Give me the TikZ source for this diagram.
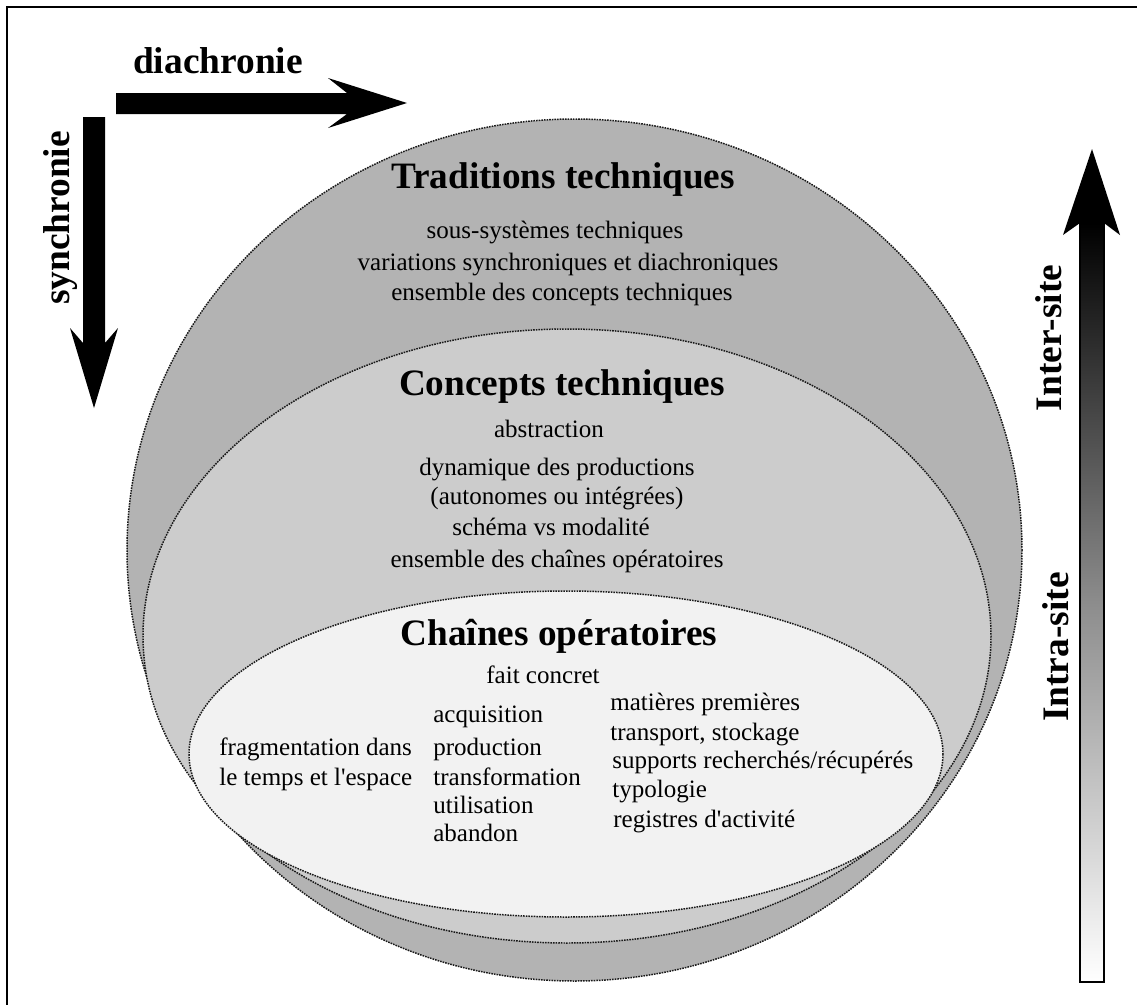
\documentclass[tikz,border=0pt]{standalone}
\usepackage{fontspec}
\setmainfont{Liberation Serif}
\usepackage{xcolor}
\usepackage{tikz}

\definecolor{tradgray}{HTML}{B3B3B3}
\definecolor{concgray}{HTML}{CCCCCC}
\definecolor{chaingray}{HTML}{F2F2F2}

\begin{document}
\begin{tikzpicture}[x=0.02cm,y=-0.02cm,
   bord/.style={draw=black!90,line width=0.85pt,dash pattern=on 0.9pt off 0.6pt},
   ttl/.style={font=\fontsize{21.2}{24}\selectfont\bfseries,inner sep=0pt,anchor=base},
   txt/.style={font=\fontsize{14.25}{17}\selectfont,inner sep=0pt,anchor=base},
   col/.style={txt,anchor=base west},
   axlab/.style={font=\fontsize{21.3}{24}\selectfont\bfseries,inner sep=0pt,anchor=base}]
  \useasboundingbox (0,0) rectangle (1137,1005);
  \draw[line width=1.2pt] (7,1005) -- (7,7) -- (1137,7);

  % nested levels
  \path[bord,fill=tradgray] (574.5,550) ellipse [x radius=447.5, y radius=431];
  \path[bord,fill=concgray] (567,636) ellipse [x radius=424, y radius=307];
  \path[bord,fill=chaingray] (566,754) ellipse [x radius=377, y radius=163];

  % axes
  \fill (116,93) -- (347,93) -- (328,78) -- (407,103) -- (328,128) -- (347,114) -- (116,114) -- cycle;
  \fill (83,117) -- (105,117) -- (105,343) -- (118,328) -- (94,408) -- (70,328) -- (83,343) -- cycle;
  \node[axlab] (dia) at (218,73) {diachronie};
  \node[axlab,rotate=90] (syn) at (70,218) {synchronie};

  \shade[top color=black,bottom color=white,middle color=black!45,draw=black,line width=1.3pt]
    (1080,223) rectangle (1104,982);
  \fill (1092,149) -- (1120,235) -- (1104,223) -- (1080,223) -- (1063,235) -- cycle;
  \node[axlab,rotate=90] (inter) at (1061,338) {Inter-site};
  \node[axlab,rotate=90] (intra) at (1068,647) {Intra-site};

  % Traditions techniques
  \node[ttl] (trad) at (563,188) {Traditions techniques};
  \node[txt] (trad1) at (555,238) {sous-systèmes techniques};
  \node[txt] (trad2) at (568,270) {variations synchroniques et diachroniques};
  \node[txt] (trad3) at (562,300) {ensemble des concepts techniques};

  % Concepts techniques
  \node[ttl] (conc) at (562,395) {Concepts techniques};
  \node[txt] (conc1) at (549,437) {abstraction};
  \node[txt] (conc2) at (557,475) {dynamique des productions};
  \node[txt] (conc3) at (557,504) {(autonomes ou intégrées)};
  \node[txt] (conc4) at (551,535) {schéma vs modalité};
  \node[txt] (conc5) at (557,567) {ensemble des chaînes opératoires};

  % Chaines operatoires
  \node[ttl] (chain) at (559,645) {Chaînes opératoires};
  \node[txt] (fait) at (543,683) {fait concret};

  \node[col] (frag1) at (219,755) {fragmentation dans};
  \node[col] (frag2) at (219,785) {le temps et l\textquotesingle espace};

  \node[col] (acq) at (433,722) {acquisition};
  \node[col] (prod) at (433,755) {production};
  \node[col] (trans) at (433,785) {transformation};
  \node[col] (util) at (433,813) {utilisation};
  \node[col] (aband) at (433,841) {abandon};

  \node[col] (mat) at (610,710) {matières premières};
  \node[col] (transp) at (610,740) {transport, stockage};
  \node[col] (supp) at (612,768) {supports recherchés/récupérés};
  \node[col] (typo) at (612,797) {typologie};
  \node[col] (reg) at (613,827) {registres d\textquotesingle activité};
\end{tikzpicture}
\end{document}
